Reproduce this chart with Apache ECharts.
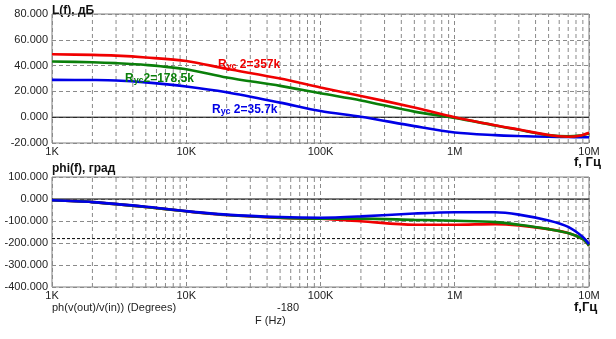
<!DOCTYPE html>
<html>
<head>
<meta charset="utf-8">
<script src="https://cdn.jsdelivr.net/npm/echarts@6/dist/echarts.min.js"></script>
<style>
  html, body { margin: 0; padding: 0; background: #ffffff; }
  #chart { width: 616px; height: 339px; }
</style>
</head>
<body>
<div id="chart"></div>
<script>
// Frequency points (Hz) for the gain curves
const gainFreqs = [1e3, 2e3, 3e3, 5e3, 1e4, 2e4, 5e4, 1e5, 2e5, 5e5, 1e6, 2e6, 3e6, 5e6, 7e6, 8.5e6, 1e7];
// Gain L(f), dB, for each feedback resistor value
const gain357k  = [48.8, 48.3, 47.7, 46.3, 43.6, 37.5, 30.0, 23.0, 16.5, 7.5, 0.0, -6.3, -9.6, -13.8, -15.1, -14.4, -12.0];
const gain178k  = [43.2, 42.6, 41.9, 40.5, 37.2, 30.8, 24.3, 18.5, 13.0, 4.3, -0.5, -6.4, -9.8, -13.9, -14.9, -14.3, -12.6];
const gain35k   = [28.9, 28.8, 28.5, 27.0, 23.8, 19.3, 11.3, 4.8, 0.3, -6.9, -11.8, -13.9, -14.6, -15.2, -15.4, -15.5, -15.6];

// Frequency points (Hz) for the phase curves
const phaseFreqs = [1e3, 2e3, 5e3, 1e4, 2e4, 5e4, 1e5, 2e5, 5e5, 1e6, 2e6, 3e6, 5e6, 7e6, 9e6, 1e7];
// Phase phi(f), degrees
const phase357k = [-6, -14, -36, -56, -73, -86, -90, -101, -117, -117, -114, -120, -137, -155, -183, -212];
const phase178k = [-6, -14, -36, -56, -73, -85, -89, -89, -95, -99, -105, -117, -137, -155, -183, -212];
const phase35k  = [-6, -14, -35, -55, -71, -82, -85, -79, -66, -60, -60, -71, -98, -127, -173, -205];

// Axis tick labels
const freqTickLabels = { 1e3: '1K', 1e4: '10K', 1e5: '100K', 1e6: '1M', 1e7: '10M' };
const decadeStarts = [1e3, 1e4, 1e5, 1e6];
const decadeSteps = [2, 3, 4, 5, 6, 7, 8, 9];

const FONT = 'Arial, "Liberation Sans", sans-serif';
const RED = '#f00000', GREEN = '#0a7f0a', BLUE = '#0000e6';
const GRID_GREY = '#8a8a8a';

const zip = (xs, ys) => xs.map((x, i) => [x, ys[i]]);

// frequencies of the dashed lines at 2..9 inside each decade
const minorFreqs = [];
decadeStarts.forEach(d => decadeSteps.forEach(k => minorFreqs.push(d * k)));

function xAxisFor(gridIndex) {
  return {
    type: 'log', logBase: 10, min: 1e3, max: 1e7, gridIndex,
    axisLine: { show: false }, axisTick: { show: false },
    axisLabel: {
      color: '#222', fontFamily: FONT, fontSize: 11, margin: 3,
      alignMinLabel: 'left',
      formatter: v => freqTickLabels[Math.round(v)] || ''
    },
    splitLine: { show: true, lineStyle: { color: GRID_GREY, type: [4, 3], width: 1 } }
  };
}

function yAxisFor(gridIndex, min, max, interval) {
  return {
    type: 'value', gridIndex, min, max, interval,
    axisLine: { show: false }, axisTick: { show: false },
    axisLabel: {
      color: '#222', fontFamily: FONT, fontSize: 11, margin: 4,
      formatter: v => v.toFixed(3)
    },
    splitLine: { show: true, lineStyle: { color: GRID_GREY, type: [4, 3], width: 1 } }
  };
}

// vertical dashed minor grid line at one frequency, as a two-point line series
function minorLine(idx, f, yMin, yMax) {
  return {
    type: 'line', xAxisIndex: idx, yAxisIndex: idx, z: 2, silent: true,
    data: [[f, yMin], [f, yMax]], showSymbol: false, animation: false,
    lineStyle: { color: GRID_GREY, width: 1, type: [4, 3] }
  };
}

// horizontal reference line across the whole frequency range
function hLine(idx, value, dash) {
  return {
    type: 'line', xAxisIndex: idx, yAxisIndex: idx, z: 2, silent: true,
    data: [[1e3, value], [1e7, value]], showSymbol: false, animation: false,
    lineStyle: { color: '#000', width: 1, type: dash || 'solid' }
  };
}

function curve(idx, name, freqs, values, color, z) {
  return {
    type: 'line', name, xAxisIndex: idx, yAxisIndex: idx,
    data: zip(freqs, values), showSymbol: false, smooth: 0.3, z,
    lineStyle: { color, width: 2.6 }, animation: false
  };
}

const chart = echarts.init(document.getElementById('chart'), null, { renderer: 'canvas' });

const titleStyle = { fontFamily: FONT, fontWeight: 'bold', fill: '#111' };

function rLabel(left, top, value, color, gap) {
  return {
    type: 'text', left, top, z: 50,
    style: {
      text: '{r|R}{s|ус}{r|' + gap + value + '}',
      rich: {
        r: { fontFamily: FONT, fontWeight: 'bold', fontSize: 12, fill: color, color: color },
        s: { fontFamily: FONT, fontWeight: 'bold', fontSize: 9, fill: color, color: color, padding: [4, 0, 0, 0] }
      }
    }
  };
}

const gridSeries = [];
minorFreqs.forEach(f => {
  gridSeries.push(minorLine(0, f, -20, 80));
  gridSeries.push(minorLine(1, f, -400, 100));
});

chart.setOption({
  animation: false,
  backgroundColor: '#ffffff',
  grid: [
    { left: 52, top: 14, width: 537, height: 129, show: true, borderColor: '#808080', borderWidth: 1, backgroundColor: 'transparent' },
    { left: 52, top: 177, width: 537, height: 110, show: true, borderColor: '#808080', borderWidth: 1, backgroundColor: 'transparent' }
  ],
  xAxis: [xAxisFor(0), xAxisFor(1)],
  yAxis: [yAxisFor(0, -20, 80, 20), yAxisFor(1, -400, 100, 100)],
  series: gridSeries.concat([
    hLine(0, 0),
    hLine(1, 0),
    hLine(1, -180, [3, 2]),
    curve(0, 'Rус 2=35.7k', gainFreqs, gain35k, BLUE, 3),
    curve(0, 'Rус 2=178,5k', gainFreqs, gain178k, GREEN, 4),
    curve(0, 'Rус 2=357k', gainFreqs, gain357k, RED, 5),
    curve(1, 'Rус 2=357k', phaseFreqs, phase357k, RED, 3),
    curve(1, 'Rус 2=178,5k', phaseFreqs, phase178k, GREEN, 4),
    curve(1, 'Rус 2=35.7k', phaseFreqs, phase35k, BLUE, 5)
  ]),
  graphic: [
    { type: 'text', left: 52, top: 5, style: Object.assign({ text: 'L(f), дБ', fontSize: 12 }, titleStyle) },
    { type: 'text', left: 574, top: 156, style: Object.assign({ text: 'f, Гц', fontSize: 13 }, titleStyle) },
    { type: 'text', left: 52, top: 163, style: Object.assign({ text: 'phi(f), град', fontSize: 12 }, titleStyle) },
    { type: 'text', left: 574, top: 301, style: Object.assign({ text: 'f,Гц', fontSize: 13 }, titleStyle) },
    { type: 'text', left: 52, top: 302, style: { text: 'ph(v(out)/v(in)) (Degrees)', fontFamily: FONT, fontSize: 11, fill: '#222' } },
    { type: 'text', left: 277, top: 302, style: { text: '-180', fontFamily: FONT, fontSize: 11, fill: '#222' } },
    { type: 'text', left: 255, top: 315, style: { text: 'F (Hz)', fontFamily: FONT, fontSize: 11, fill: '#222' } },
    rLabel(218, 59, '2=357k', RED, ' '),
    rLabel(125, 73, '2=178,5k', GREEN, ''),
    rLabel(212, 104, '2=35.7k', BLUE, ' ')
  ]
});
</script>
</body>
</html>
